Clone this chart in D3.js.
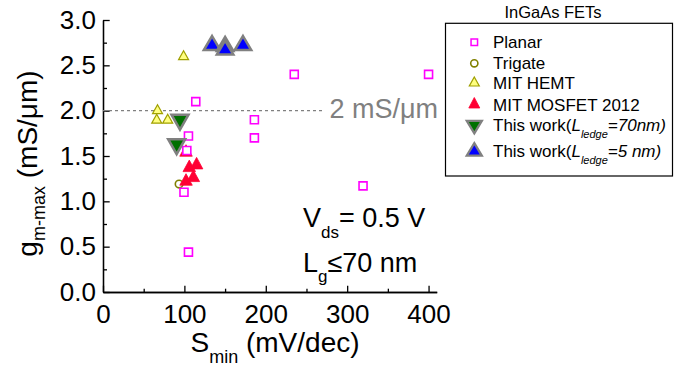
<!DOCTYPE html>
<html>
<head>
<meta charset="utf-8">
<script src="https://cdn.jsdelivr.net/npm/d3@7"></script>
<style>
  html, body { margin: 0; padding: 0; background: #fff; }
  svg { display: block; font-family: "Liberation Sans", Arial, sans-serif; }
</style>
</head>
<body>
<svg id="chart" width="676" height="366"></svg>
<script>
// Minimum subthreshold swing (mV/dec) vs. peak transconductance (mS/um)
const planar    = [[114, 2.10], [186, 1.90], [186, 1.70], [235, 2.40], [400, 2.40],
                   [319.5, 1.17], [105, 1.72], [103, 1.56], [99.5, 1.10], [105, 0.44]];
const trigate   = [[93.5, 1.19]];
const mitHemt   = [[67, 2.00], [66, 1.895], [79.5, 1.895], [99, 2.595]];
const mitMosfet = [[102, 1.54], [115, 1.40], [106, 1.37], [111, 1.26], [102, 1.22]];
const ledge70   = [[94.6, 1.90], [90.5, 1.63]];
const ledge5    = [[134, 2.72], [150, 2.71], [150, 2.67], [172, 2.72]];

const xMajorTicks = [0, 100, 200, 300, 400];
const xMinorTicks = [50, 150, 250, 350];
const yMajorTicks = [0, 0.5, 1.0, 1.5, 2.0, 2.5, 3.0];
const yMinorTicks = [0.25, 0.75, 1.25, 1.75, 2.25, 2.75];
const refLevel = 2.0;
const refLevelEnd = 272;

const svg = d3.select("#chart");
const x = d3.scaleLinear().domain([0, 410]).range([103, 436.7]);
const y = d3.scaleLinear().domain([0, 3]).range([292, 20]);

// ---- axes (ticks point inward) ----
function styleAxis(g) {
  g.selectAll("path, line").attr("stroke", "#000").attr("stroke-width", 1.3);
  g.selectAll("text").attr("fill", "#000").attr("font-size", 26)
    .attr("font-family", "'Liberation Sans', Arial, sans-serif");
}
svg.append("g").attr("transform", "translate(0,292)")
  .call(d3.axisBottom(x).tickValues(xMinorTicks).tickSize(-3.3).tickSizeOuter(0).tickFormat(""))
  .call(styleAxis);
svg.append("g").attr("transform", "translate(0,292)")
  .call(d3.axisBottom(x).tickValues(xMajorTicks).tickSize(-6.3).tickSizeOuter(0).tickPadding(12.5).tickFormat(d3.format("d")))
  .call(styleAxis);
svg.append("g").attr("transform", "translate(103,0)")
  .call(d3.axisLeft(y).tickValues(yMinorTicks).tickSize(-4).tickSizeOuter(0).tickFormat(""))
  .call(styleAxis);
svg.append("g").attr("transform", "translate(103,0)")
  .call(d3.axisLeft(y).tickValues(yMajorTicks).tickSize(-6.7).tickSizeOuter(0).tickPadding(7).tickFormat(d3.format(".1f")))
  .call(styleAxis);

// ---- axis titles ----
const xt = svg.append("text").attr("x", 275).attr("y", 351.7)
  .attr("text-anchor", "middle").attr("font-size", 28).attr("fill", "#000");
xt.append("tspan").text("S");
xt.append("tspan").attr("font-size", 18).attr("dy", 11).text("min");
xt.append("tspan").attr("dy", -11).text(" (mV/dec)");

const yt = svg.append("text").attr("transform", "translate(37,163.5) rotate(-90)")
  .attr("text-anchor", "middle").attr("font-size", 28).attr("fill", "#000");
yt.append("tspan").text("g");
yt.append("tspan").attr("font-size", 18).attr("dy", 8).text("m-max");
yt.append("tspan").attr("dy", -8).text(" (mS/\u03bcm)");

// ---- 2 mS/um reference line ----
svg.append("line")
  .attr("x1", x(0)).attr("x2", x(refLevelEnd))
  .attr("y1", y(refLevel)).attr("y2", y(refLevel))
  .attr("stroke", "#808080").attr("stroke-width", 1.2).attr("stroke-dasharray", "3,3");
svg.append("text").attr("x", x(refLevelEnd) + 5).attr("y", y(refLevel) + 7)
  .attr("font-size", 27).attr("fill", "#808080").text("2 mS/\u03bcm");

// ---- marker shapes ----
function triPath(w, h, up) {
  // centroid at origin
  const p = d3.path();
  const s = up ? 1 : -1;
  p.moveTo(0, -s * 2 * h / 3);
  p.lineTo(w / 2, s * h / 3);
  p.lineTo(-w / 2, s * h / 3);
  p.closePath();
  return p.toString();
}
function sqPath(a) {
  const p = d3.path();
  p.rect(-a / 2, -a / 2, a, a);
  return p.toString();
}

const styles = {
  planar:  { d: sqPath(8),               fill: "#fff",    stroke: "#ff00ff", sw: 1.6 },
  hemt:    { d: triPath(10, 9, true),    fill: "#ffff80", stroke: "#a0a000", sw: 1.2 },
  mosfet:  { d: triPath(12.5, 11.5, true), fill: "#ff0033", stroke: "#ff0033", sw: 0.8 },
  ledge70: { d: triPath(17, 15, false),  fill: "#007000", stroke: "#808080", sw: 2.5 },
  ledge5:  { d: triPath(16.5, 14, true), fill: "#0000ff", stroke: "#808080", sw: 2.5 }
};

function plotSeries(data, st) {
  svg.append("g").selectAll("path").data(data).join("path")
    .attr("d", st.d)
    .attr("transform", d => `translate(${x(d[0])},${y(d[1])})`)
    .attr("fill", st.fill).attr("stroke", st.stroke).attr("stroke-width", st.sw)
    .attr("stroke-linejoin", "miter");
}

svg.append("g").selectAll("circle").data(trigate).join("circle")
  .attr("cx", d => x(d[0])).attr("cy", d => y(d[1])).attr("r", 3.8)
  .attr("fill", "none").attr("stroke", "#808000").attr("stroke-width", 1.6);
plotSeries(mitMosfet, styles.mosfet);
plotSeries(planar, styles.planar);
plotSeries(mitHemt, styles.hemt);
plotSeries(ledge70, styles.ledge70);
plotSeries(ledge5, styles.ledge5);

// ---- annotations ----
const a1 = svg.append("text").attr("x", 303).attr("y", 226.7).attr("font-size", 27).attr("fill", "#000");
a1.append("tspan").text("V");
a1.append("tspan").attr("font-size", 17).attr("dy", 11).text("ds");
a1.append("tspan").attr("dy", -11).text("= 0.5 V");
const a2 = svg.append("text").attr("x", 303).attr("y", 271.7).attr("font-size", 27).attr("fill", "#000");
a2.append("tspan").text("L");
a2.append("tspan").attr("font-size", 17).attr("dy", 10).text("g");
a2.append("tspan").attr("dy", -10).text("\u226470 nm");

// ---- legend ----
const legendTitle = "InGaAs FETs";
const legendItems = [
  { key: "planar",  y: 42.3,  base: 47.7 },
  { key: "trigate", y: 63.3,  base: 69 },
  { key: "hemt",    y: 83,    base: 89.3 },
  { key: "mosfet",  y: 104.5, base: 111 },
  { key: "ledge70", y: 125,   base: 131 },
  { key: "ledge5",  y: 151.5, base: 157 }
];
const lg = svg.append("g");
lg.append("rect").attr("x", 445.5).attr("y", 23.3).attr("width", 227).attr("height", 152.7)
  .attr("fill", "#fff").attr("stroke", "#000").attr("stroke-width", 1.2);
lg.append("text").attr("x", 553).attr("y", 17.7).attr("text-anchor", "middle")
  .attr("font-size", 16.5).attr("fill", "#000").text(legendTitle);

const lgMarks = {
  planar:  { d: sqPath(6.5),              fill: "#fff",    stroke: "#ff00ff", sw: 1.5 },
  hemt:    { d: triPath(10, 9, true),     fill: "#ffff80", stroke: "#a0a000", sw: 1.2 },
  mosfet:  { d: triPath(11, 10.5, true),  fill: "#ff0033", stroke: "#ff0033", sw: 0.8 },
  ledge70: { d: triPath(15, 12.5, false), fill: "#007000", stroke: "#808080", sw: 2.3 },
  ledge5:  { d: triPath(15, 12.5, true),  fill: "#0000ff", stroke: "#808080", sw: 2.3 }
};
legendItems.forEach(it => {
  if (it.key === "trigate") {
    lg.append("circle").attr("cx", 474.3).attr("cy", it.y).attr("r", 3.6)
      .attr("fill", "none").attr("stroke", "#808000").attr("stroke-width", 1.6);
  } else {
    const m = lgMarks[it.key];
    lg.append("path").attr("d", m.d).attr("transform", `translate(474.3,${it.y})`)
      .attr("fill", m.fill).attr("stroke", m.stroke).attr("stroke-width", m.sw);
  }
  const t = lg.append("text").attr("x", 493).attr("y", it.base).attr("font-size", 17).attr("fill", "#000");
  if (it.key === "planar") t.text("Planar");
  else if (it.key === "trigate") t.text("Trigate");
  else if (it.key === "hemt") t.text("MIT HEMT");
  else if (it.key === "mosfet") t.text("MIT MOSFET 2012");
  else {
    t.append("tspan").text("This work(");
    t.append("tspan").attr("font-style", "italic").text("L");
    t.append("tspan").attr("font-style", "italic").attr("font-size", 11).attr("dy", 6.5).text("ledge");
    t.append("tspan").attr("font-style", "italic").attr("dy", -6.5)
      .text(it.key === "ledge70" ? "=70nm)" : "=5 nm)");
  }
});
</script>
</body>
</html>
